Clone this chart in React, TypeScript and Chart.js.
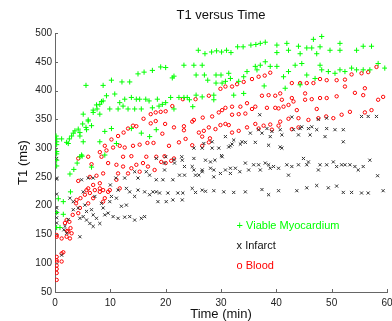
import React, { useEffect, useRef } from "react";
import { Chart, registerables } from "chart.js";

Chart.register(...registerables);

const chartTitle = "T1 versus Time";
const xTitle = "Time (min)";
const yTitle = "T1 (ms)";
const xMin = 0, xMax = 60, xStep = 10;
const yMin = 50, yMax = 500, yStep = 50;
const seriesNames = ["Viable Myocardium", "Infarct", "Blood"];
const seriesMarks = ["+", "x", "o"];
const seriesColors = ["#00ff00", "#111111", "#ff0000"];

// [time (min), T1 (ms)]
const viable: [number, number][] = [
  [0.2,321],[0.3,316],[0.3,311],[0.3,306],[0.3,294],[0.3,290],[0.3,279],[0.3,269],[0.3,188],[0.3,162],[0.6,212],[0.9,162],[1.2,316],[1.5,207],[1.5,185],[2.1,310],[2.4,308],[2.6,316],[2.7,255],[2.8,224],[3,321],[3.3,326],[3.4,263],[3.6,330],[4,274],[4.2,333],[4.5,321],[4.5,327],[4.5,285],[4.8,288],[4.9,286],[5,342],[5.1,359],[5.1,311],[5.6,336],[5.6,409],[5.7,332],[6,347],[6,349],[6.6,339],[6.6,267],[6.9,362],[6.9,366],[7.5,375],[7.6,368],[8.1,359],[8.1,376],[8.1,311],[8.4,381],[8.7,382],[8.7,409],[9,288],[9,329],[9.3,391],[9.9,368],[10.2,418],[10.2,334],[10.8,394],[11.1,308],[11.4,368],[11.7,379],[12.1,415],[12.3,373],[12.6,385],[13.2,368],[13.5,415],[13.8,388],[13.8,334],[14.4,368],[14.7,385],[15,429],[15.3,385],[15.6,368],[15.6,326],[16.1,432],[16.4,385],[17,382],[17.1,320],[17.6,435],[17.6,370],[18.3,332],[18.5,385],[18.8,373],[19.1,441],[19.4,376],[20,440],[20,379],[20.9,388],[21.2,422],[21.5,425],[21.5,368],[22.4,388],[23.3,444],[23.3,388],[23.9,388],
  [25.9,470],[27.1,464],[28.3,467],[29.2,469],[30.1,467],[31,470],[31.8,466],[33,476],[34,476],[35.4,479],[36.3,480],[37.1,482],[38,484],[40.1,479],[40.1,466],[41.9,482],[42.2,470],[44,477],[44.3,464],[45.5,474],[46.4,474],[46.7,489],[48.2,494],[47.9,476],[47.3,464],[49.7,470],[51.5,482],[51.5,470],[54.5,470],[55.7,477],[57.2,477],
  [25.1,444],[26.6,444],[25.5,427],[27,427],[27.6,418],[29.1,427],[30,427],[29.1,413],[30.2,413],[30.8,416],[31.4,430],[31.7,421],[33.2,416],[34.1,424],[34.7,433],[36.2,442],[36.5,436],[37.1,444],[38,450],[38.9,442],[40.1,442],[41.3,424],[42.2,433],[43.4,444],[44.6,447],[45.5,427],[47,421],[47.9,444],[48.2,436],[49.4,433],[50.6,430],[51.5,436],[52.4,433],[53.6,439],[54.5,436],[55.7,436],[56.9,436],[58.4,447],[59.6,439],
  [24.3,384],[25.5,392],[26.6,389],[28.7,392],[28.7,384],[24.9,372],[34.1,395],[32.3,392],[37.8,408],[41.6,404],[44.3,410]
];

const infarct: [number, number][] = [
  [0.3,282],[0.3,248],[0.3,246],[0.3,220],[0.3,196],[0.3,179],[0.3,170],[0.3,188],[1.2,114],[1.6,158],[1.8,164],[2.1,152],[2.4,176],[2.7,213],[3.3,207],[3.3,193],[4.2,196],[4.5,178],[4.5,146],[4.8,245],[5.1,181],[5.1,224],[5.4,201],[5.7,175],[5.7,190],[6,248],[6.3,169],[6.6,193],[6.9,164],[6.9,184],[6.9,248],[7.2,216],[7.5,178],[8.1,169],[8.4,204],[8.7,196],[9,184],[9.6,187],[9.9,207],[10,236],[10.2,216],[10.5,181],[11,248],[11.1,213],[11.4,178],[11.4,227],[12,199],[12.6,180],[12.6,248],[12.9,201],[12.9,230],[13.5,181],[13.5,224],[14.4,175],[14.4,216],[14.4,259],[15,227],[15,248],[15.6,178],[16.2,181],[16.2,224],[16.5,259],[17.1,219],[17.1,253],[17.7,224],[18.3,224],[18.3,245],[18.3,282],[18.6,207],[18.9,222],[19.5,245],[19.8,274],[19.8,262],[20,285],[20.1,207],[20.4,222],[21.3,245],[21.3,210],[21.5,280],[21.6,274],[22.2,222],[22.5,253],[22.9,285],[23,279],[23,210],[23.1,222],[23.4,268],[23.4,253],[24.8,230],[24.8,268],[25.1,262],[25.1,282],[25.1,300],[25.4,253],[25.4,223],[26,253],[26.6,259],[26.6,262],[26.6,227],[26.6,300],[26.9,308],[27.2,279],[27.2,225],[28.1,265],[28.1,276],[28.4,300],[28.4,311],[28.7,250],[28.7,262],[28.7,226],[28.9,279],[29.6,300],[29.9,256],[30.1,287],[30.2,285],[30.5,224],[30.8,262],[30.8,320],[31.4,302],[31.7,265],[31.7,256],[31.7,304],[32,307],[32.3,223],[32.3,314],[32.6,265],[33.4,259],[33.5,307],[33.8,311],[34.4,274],[34.4,224],[34.4,310],[35,262],[35.3,326],[35.9,271],[36.2,310],[36.8,271],[36.8,332],[37,358],[37.1,262],[37.4,228],[37.4,326],[38,274],[38.3,334],[38.6,271],[38.6,305],[38.6,219],[38.9,265],[38.9,320],[39.2,329],[39.5,268],[40.4,265],[40.4,226],[40.7,332],[40.7,302],[41,323],[41,300],[41.9,271],[42.2,253],[42.8,268],[42.8,354],[43.1,332],[43.7,226],[44,271],[44,323],[44.3,334],[44.6,337],[44.9,282],[45.5,271],[45.5,231],[45.8,276],[45.8,334],[46.1,323],[46.4,337],[47.3,235],[47.3,332],[47.6,350],[47.6,262],[47.9,271],[48.8,320],[49.1,271],[49.1,334],[49.1,352],[49.4,231],[50.3,276],[50.6,332],[50.9,268],[50.9,234],[51.8,271],[52.1,332],[52.1,311],[52.1,223],[52.4,271],[53.3,271],[53.6,223],[54.2,268],[54.8,262],[55.4,355],[55.4,222],[55.7,268],[56.6,355],[56.6,222],[56.9,279],[58.1,355],[58.3,252],[59.3,226]
];

const blood: [number, number][] = [
  [0.3,146],[0.3,149],[0.3,111],[0.3,105],[0.3,102],[0.3,96],[0.3,90],[0.3,83],[0.3,71],[1.2,103],[1.2,117],[1.5,119],[1.2,143],[2.1,146],[2.1,175],[2.2,156],[2.4,155],[2.7,143],[2.8,161],[2.6,172],[3,152],[1.8,170],[3.2,184],[3.8,204],[3.9,210],[4.2,187],[4.2,243],[4.2,282],[4.5,196],[4.6,213],[5.4,219],[5.7,227],[6,204],[6,230],[6,285],[6.3,222],[6.3,250],[6.6,272],[6.9,213],[6.9,236],[7.2,227],[7.5,252],[8.1,230],[8.1,239],[8.1,224],[8.1,293],[8.4,285],[8.7,227],[8.7,207],[8.7,256],[9,213],[9,304],[9.3,296],[9.6,224],[9.6,274],[9.9,227],[10.2,315],[10.5,301],[11.1,271],[11.1,245],[11.4,256],[11.4,321],[11.7,230],[11.7,304],[12.3,268],[12.3,285],[12.4,327],[12.6,301],[13.2,256],[13.2,334],[13.8,265],[13.8,286],[14.1,339],[14.1,304],[14.7,271],[14.7,338],[15.3,259],[15.3,306],[15.9,274],[16,351],[16.5,285],[16.7,309],[16.8,268],[17.3,359],[17.3,343],[17.8,309],[18,262],[18.2,362],[18.2,347],[18.3,285],[19.1,363],[19.2,276],[19.4,325],[19.8,286],[19.9,342],[20,364],[20,274],[20.6,304],[21,278],[21.2,373],[21.5,336],[21.5,282],[22.4,310],[23.1,385],[23.3,338],[23.3,331],[23.6,316],[24.8,305],[24.8,346],[25.1,349],[25.4,385],[26,327],[26.6,304],[26.6,320],[26.7,353],[26.9,330],[27.8,391],[27.8,336],[27.8,310],[28,317],[28.4,355],[29,333],[29.6,362],[29.9,403],[29.9,340],[30.2,366],[30.8,407],[30.8,370],[30.8,342],[31.4,340],[32,407],[32,372],[32,358],[32,327],[32.9,411],[33.2,359],[33.2,330],[33.5,372],[34.1,415],[34.4,360],[34.7,378],[34.7,336],[35.6,420],[35.6,368],[36.2,372],[36.2,342],[36.8,424],[36.8,334],[37.4,391],[37.7,339],[37.9,426],[38.3,370],[38.6,392],[38.9,431],[38.9,341],[39.2,332],[39.8,391],[39.8,370],[40.4,339],
  [40.7,395],[40.4,369],[41,384],[42.8,387],[43.1,381],[41.3,372],[42.2,375],[43.7,366],[44,352],[45.2,395],[45.2,384],[46.4,385],[47.3,368],[47.9,387],[49.1,387],[50.3,352],[50.9,390],[51.8,358],[52.4,407],[54.2,396],[55.7,392],[56,404],[57.2,366],[58.4,384],[59.3,389],[58.1,441],[55.4,430],[56.6,432],[53.6,428],[47.9,420],[49.1,418],[50.9,418],[52.4,419],[42.8,413],[44.3,413],[45.5,413],[46.7,413],[40.7,346],[42.2,351],[45.8,349],[47.6,352],[49,355],[53.3,363],[56,362],[42.8,333],[44,336]
];

const FONT = '"Liberation Sans", Arial, Helvetica, sans-serif';

const tickMarksPlugin = {
  id: "tickMarks",
  afterDraw(chart: any) {
    const { ctx, chartArea, scales } = chart;
    ctx.save();
    ctx.strokeStyle = "#666";
    ctx.lineWidth = 1;
    ctx.beginPath();
    scales.x.ticks.forEach((t: any) => {
      const px = Math.round(scales.x.getPixelForValue(t.value)) + 0.5;
      ctx.moveTo(px, chartArea.bottom);
      ctx.lineTo(px, chartArea.bottom - 3);
    });
    scales.y.ticks.forEach((t: any) => {
      const py = Math.round(scales.y.getPixelForValue(t.value)) + 0.5;
      ctx.moveTo(chartArea.left, py);
      ctx.lineTo(chartArea.left + 3, py);
    });
    ctx.stroke();
    ctx.restore();
  },
};

const textLegendPlugin = {
  id: "textLegend",
  afterDraw(chart: any) {
    const { ctx, chartArea } = chart;
    const w = chartArea.right - chartArea.left;
    const h = chartArea.bottom - chartArea.top;
    const fr = [0.745, 0.822, 0.898];
    ctx.save();
    ctx.font = `11px ${FONT}`;
    ctx.textBaseline = "middle";
    ctx.textAlign = "left";
    seriesNames.forEach((name, i) => {
      ctx.fillStyle = seriesColors[i];
      ctx.fillText(`${seriesMarks[i]} ${name}`, chartArea.left + 0.547 * w, chartArea.top + fr[i] * h);
    });
    ctx.restore();
  },
};

export default function App() {
  const ref = useRef<HTMLCanvasElement | null>(null);
  useEffect(() => {
    if (!ref.current) return;
    const toPts = (a: [number, number][]) => a.map(([x, y]) => ({ x, y }));
    const chart = new Chart(ref.current, {
      type: "scatter",
      data: {
        datasets: [
          {
            label: seriesNames[0],
            data: toPts(viable),
            pointStyle: "cross",
            pointRadius: 2.6,
            borderColor: seriesColors[0],
            backgroundColor: seriesColors[0],
            pointBorderWidth: 1,
          },
          {
            label: seriesNames[1],
            data: toPts(infarct),
            pointStyle: "crossRot",
            pointRadius: 2.2,
            borderColor: "#333",
            backgroundColor: "#333",
            pointBorderWidth: 1,
          },
          {
            label: seriesNames[2],
            data: toPts(blood),
            pointStyle: "circle",
            pointRadius: 1.7,
            borderColor: seriesColors[2],
            backgroundColor: "rgba(0,0,0,0)",
            pointBorderWidth: 1,
          },
        ],
      },
      options: {
        responsive: false,
        animation: false,
        events: [],
        layout: { padding: { left: 0, right: 3, top: 0, bottom: 0 } },
        plugins: {
          legend: { display: false },
          tooltip: { enabled: false },
          title: {
            display: true,
            fullSize: false,
            text: chartTitle,
            color: "#111",
            font: { family: FONT, size: 13, weight: "normal", lineHeight: 1.2 },
            padding: { top: 8, bottom: 9.4 },
          },
        },
        scales: {
          x: {
            type: "linear",
            min: xMin,
            max: xMax,
            grid: { display: false, drawTicks: false },
            border: { display: true, color: "#666", width: 1 },
            ticks: {
              stepSize: xStep,
              color: "#222",
              padding: 5,
              maxRotation: 0,
              font: { family: FONT, size: 10 },
            },
            title: {
              display: true,
              text: xTitle,
              color: "#111",
              font: { family: FONT, size: 13, lineHeight: 1 },
              padding: { top: 0, bottom: 0 },
            },
            afterFit(scale: any) {
              scale.height = 29;
              scale.paddingLeft = 0;
              scale.paddingRight = 0;
            },
          },
          y: {
            min: yMin,
            max: yMax,
            grid: { display: false, drawTicks: false },
            border: { display: true, color: "#666", width: 1 },
            ticks: {
              stepSize: yStep,
              color: "#222",
              padding: 3,
              font: { family: FONT, size: 10 },
            },
            title: {
              display: true,
              text: yTitle,
              color: "#111",
              font: { family: FONT, size: 13, lineHeight: 1 },
              padding: { top: 16.5, bottom: 0 },
            },
            afterFit(scale: any) {
              scale.width = 55;
              scale.paddingTop = 0;
              scale.paddingBottom = 0;
            },
          },
        },
      } as any,
      plugins: [tickMarksPlugin, textLegendPlugin],
    });
    return () => chart.destroy();
  }, []);
  return (
    <div style={{ position: "fixed", left: 0, top: 0, width: 392, height: 321, background: "#fff" }}>
      <canvas ref={ref} width={392} height={321} style={{ display: "block" }} />
    </div>
  );
}
